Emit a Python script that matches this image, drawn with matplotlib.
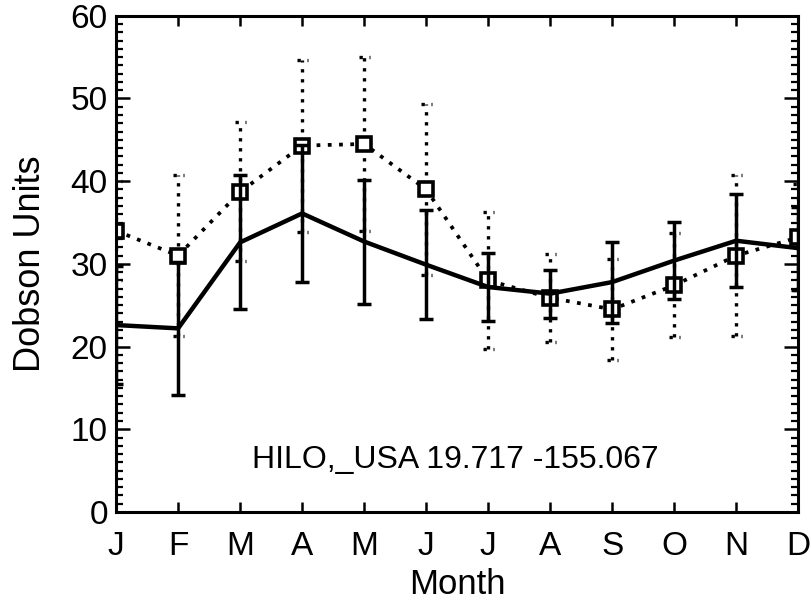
import numpy as np
import matplotlib
matplotlib.use("Agg")
import matplotlib.pyplot as plt
from matplotlib.ticker import MultipleLocator, FixedLocator

months = ['J', 'F', 'M', 'A', 'M', 'J', 'J', 'A', 'S', 'O', 'N', 'D']
month_num = np.arange(1, 13)

solid_mean = [22.6, 22.2, 32.6, 36.1, 32.7, 29.9, 27.2, 26.4, 27.8, 30.4, 32.8, 31.9]
solid_err = [7.1, 8.0, 8.1, 8.3, 7.5, 6.6, 4.1, 2.9, 4.9, 4.7, 5.6, 5.0]
dotted_mean = [34.0, 31.0, 38.7, 44.3, 44.5, 39.0, 28.0, 25.9, 24.5, 27.4, 31.0, 33.2]
dotted_err = [6.0, 9.7, 8.4, 10.4, 10.5, 10.3, 8.3, 5.3, 6.1, 6.3, 9.7, 6.4]

station_label = "HILO,_USA 19.717 -155.067"

plt.rcParams['font.family'] = ['Liberation Sans', 'DejaVu Sans']

fig = plt.figure(figsize=(8.12, 6.08), dpi=100)
ax = fig.add_axes([0.143, 0.158, 0.840, 0.816])

dot_ls = (0, (1, 2))

# dotted series
dm = np.array(dotted_mean)
de = np.array(dotted_err)
ax.vlines(month_num, dm - de, dm + de, colors='black', linestyles=dot_ls, linewidth=2.4)
ax.hlines(np.concatenate([dm - de, dm + de]), np.concatenate([month_num, month_num]) - 0.09,
          np.concatenate([month_num, month_num]) + 0.09, colors='black',
          linestyles=dot_ls, linewidth=2.4)
ax.plot(month_num, dm, color='black', linestyle=dot_ls, linewidth=2.7,
        marker='s', markersize=10, markerfacecolor='white', markeredgecolor='black',
        markeredgewidth=2.6)

# solid series
ax.errorbar(month_num, solid_mean, yerr=solid_err, color='black', linewidth=3.2,
            elinewidth=2.5, capsize=4.8, capthick=2.5)

ax.set_xlim(1, 12)
ax.set_ylim(0, 60)
ax.xaxis.set_major_locator(FixedLocator(month_num))
ax.set_xticklabels(months)
ax.yaxis.set_major_locator(MultipleLocator(10))
ax.yaxis.set_minor_locator(MultipleLocator(1))

ax.tick_params(axis='x', which='major', direction='in', length=7, width=1.8,
               top=True, bottom=True, labelsize=24, pad=14)
ax.tick_params(axis='y', which='major', direction='in', length=10, width=1.8,
               left=True, right=True, labelsize=24, pad=6)
ax.tick_params(axis='y', which='minor', direction='in', length=5, width=1.6,
               left=True, right=True)
for s in ax.spines.values():
    s.set_linewidth(2.2)

ax.set_xlabel('Month', fontsize=25, labelpad=4)
ax.set_ylabel('Dobson Units', fontsize=26, labelpad=16)

ax.text(0.497, 0.105, station_label, transform=ax.transAxes, ha='center', va='center',
        fontsize=23)

fig.savefig('out.png', dpi=100)
